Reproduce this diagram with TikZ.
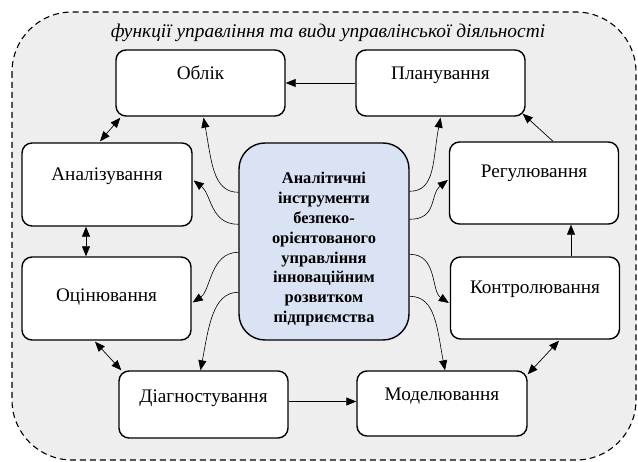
\documentclass[tikz,border=0pt]{standalone}
\usepackage{fontspec}
\setmainfont{Liberation Serif}
\usetikzlibrary{arrows.meta,calc}
\definecolor{bggray}{RGB}{238,238,238}
\definecolor{cenblue}{RGB}{218,227,243}
\tikzset{
  box/.style={draw=black, line width=1.4pt, fill=white, rounded corners=10pt,
    inner sep=0pt, minimum width=169pt, font=\fontsize{19.2}{22}\selectfont, align=center},
  cenbox/.style={draw=black, line width=1.4pt, fill=cenblue, rounded corners=26pt,
    inner sep=0pt, minimum width=170pt, minimum height=197pt,
    font=\bfseries\fontsize{16.4}{19.8}\selectfont},
  conn/.style={draw=black, line width=0.7pt, -{Triangle[length=10pt,width=8pt]}},
  dconn/.style={draw=black, line width=0.7pt, {Triangle[length=10pt,width=8pt]}-{Triangle[length=10pt,width=8pt]}},
  curv/.style={draw=black, line width=0.6pt, -{Triangle[length=10pt,width=8pt]}},
  outer/.style={draw=black, line width=1.1pt, dash pattern=on 6pt off 4pt, fill=bggray, rounded corners=60pt}
}
\begin{document}
\begin{tikzpicture}[x=1pt,y=-1pt]
\useasboundingbox (0,0) rectangle (638,462);
\path[outer] (12,12) rectangle (636,460);
\node[font=\itshape\fontsize{19.4}{22}\selectfont] (title) at (328,33) {функції управління та види управлінської діяльності};

\node[box, text height=30pt, text depth=36pt] (oblik) at (200.5,83) {Облік};
\node[box, text height=30pt, text depth=36pt] (plan) at (440.5,83) {Планування};
\node[box, text height=38pt, text depth=45pt, minimum width=170pt] (analiz) at (107,184.5) {Аналізування};
\node[box, text height=36pt, text depth=46pt] (regul) at (534,183) {Регулювання};
\node[box, text height=45pt, text depth=38pt] (ocin) at (106.5,298.5) {Оцінювання};
\node[box, text height=37pt, text depth=45pt] (kontr) at (535,298) {Контролювання};
\node[box, text height=32pt, text depth=35pt] (diag) at (203.5,404.5) {Діагностування};
\node[box, text height=30pt, text depth=35pt, minimum width=170pt] (model) at (442,403.5) {Моделювання};
\node[cenbox] (cen) at (324,241.5) {\raisebox{-12pt}[0pt][0pt]{\parbox{165pt}{\centering Аналітичні\\інструменти\\безпеко-\\орієнтованого\\управління\\інноваційним\\розвитком\\підприємства}}};

% straight connectors
\draw[conn] (plan.west) -- (oblik.east);
\draw[conn] ($(regul.north)+(19,0)$) -- ($(plan.south east)+(-3,-3)$);
\draw[conn] ($(kontr.north)+(36,0)$) coordinate (k1) -- (k1 |- regul.south);
\draw[dconn] ($(oblik.south west)+(5,1)$) -- ($(analiz.north)+(-7,-1)$);
\draw[dconn] ($(analiz.south)+(-21,0)$) coordinate (a1) -- (a1 |- ocin.north);
\draw[dconn] ($(ocin.south)+(-11.5,1)$) -- ($(diag.north west)+(3,0)$);
\draw[conn] ($(diag.east)+(0,-3)$) coordinate (d1) -- (d1 -| model.west);
\draw[dconn] ($(model.north east)+(0,4)$) -- ($(kontr.south)+(24,1)$);

% curved connectors from centre
\draw[curv] ($(cen.north west)+(0,50)$) .. controls +(-26,0) and +(8,42) .. ($(oblik.south)+(3,1)$);
\draw[curv] ($(cen.north west)+(0,82)$) .. controls +(-28,0) and +(18,14) .. ($(analiz.east)+(1,-4)$);
\draw[curv] ($(cen.north west)+(0,110)$) .. controls +(-28,0) and +(18,-12) .. ($(ocin.east)+(1,4)$);
\draw[curv] ($(cen.north west)+(0,150)$) .. controls +(-26,0) and +(8,-42) .. ($(diag.north)+(-3,0)$);
\draw[curv] ($(cen.north east)+(0,49)$) .. controls +(26,0) and +(-8,42) .. ($(plan.south)+(0,1)$);
\draw[curv] ($(cen.north east)+(0,77)$) .. controls +(28,0) and +(-18,14) .. ($(regul.west)+(-1,-3)$);
\draw[curv] ($(cen.north east)+(0,112)$) .. controls +(28,0) and +(-18,-12) .. ($(kontr.west)+(-1,5)$);
\draw[curv] ($(cen.north east)+(0,154)$) .. controls +(26,0) and +(-8,-42) .. ($(model.north)+(3,0)$);
\end{tikzpicture}
\end{document}
